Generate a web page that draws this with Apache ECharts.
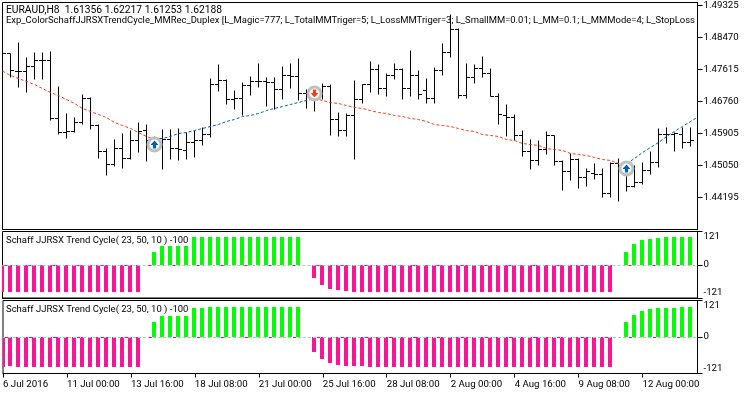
<!DOCTYPE html>
<html>
<head>
<meta charset="utf-8">
<style>
  html, body { margin: 0; padding: 0; background: #fff; }
  #chart { width: 750px; height: 394px; }
</style>
<script src="https://cdn.jsdelivr.net/npm/echarts@6/dist/echarts.min.js"></script>
</head>
<body>
<div id="chart"></div>
<script>
const opens = [1.47909,1.48042,1.47561,1.47561,1.47686,1.47855,1.47855,1.46306,1.45932,1.45958,1.46199,1.46840,1.46119,1.45424,1.45077,1.45504,1.45228,1.45718,1.45985,1.45718,1.45771,1.45745,1.45504,1.45451,1.45665,1.45718,1.45878,1.47214,1.47321,1.46813,1.46840,1.47187,1.47294,1.47294,1.47268,1.47081,1.47455,1.47428,1.46974,1.46974,1.47027,1.47161,1.46279,1.45985,1.46386,1.46813,1.47214,1.47615,1.47107,1.47455,1.47615,1.47107,1.47455,1.47054,1.46840,1.47588,1.48069,1.48684,1.46920,1.47401,1.47642,1.47508,1.46894,1.46386,1.46332,1.45852,1.45424,1.45184,1.45477,1.45852,1.45157,1.44890,1.45210,1.44729,1.44836,1.44810,1.44302,1.45103,1.45014,1.44489,1.44596,1.44916,1.45130,1.45878,1.45878,1.45878,1.45665]
const closes = [1.48042,1.47588,1.47561,1.47686,1.47855,1.47855,1.46306,1.45932,1.45958,1.46199,1.46840,1.46119,1.45424,1.45077,1.45504,1.45228,1.45718,1.45958,1.45718,1.45718,1.45745,1.45504,1.45477,1.45665,1.45718,1.45878,1.47214,1.47321,1.46813,1.46840,1.47187,1.47294,1.47294,1.47268,1.47081,1.47455,1.47428,1.46974,1.46974,1.47027,1.47161,1.46279,1.45985,1.46386,1.46813,1.47214,1.47615,1.47107,1.47455,1.47615,1.47107,1.47455,1.46947,1.46840,1.47588,1.48069,1.48684,1.46920,1.47401,1.47642,1.47508,1.46894,1.46413,1.46332,1.45852,1.45424,1.45184,1.45477,1.45852,1.45157,1.44890,1.45210,1.44729,1.44890,1.44810,1.44302,1.45103,1.45050,1.44489,1.44596,1.44916,1.45130,1.45878,1.45878,1.45905,1.45665,1.45718]
const lows = [1.47775,1.47392,1.47125,1.46991,1.47348,1.47348,1.46252,1.45878,1.45771,1.45932,1.46145,1.46012,1.45237,1.44774,1.45023,1.44970,1.45210,1.45397,1.45148,1.45504,1.44934,1.45210,1.45184,1.45210,1.45264,1.45584,1.45798,1.47027,1.46680,1.46546,1.46386,1.46920,1.47134,1.46626,1.46546,1.46813,1.47107,1.46787,1.46573,1.46493,1.46813,1.45860,1.45825,1.45825,1.45210,1.46706,1.47000,1.46947,1.46894,1.47348,1.46813,1.46894,1.46813,1.46706,1.46706,1.47455,1.47936,1.46840,1.46840,1.47241,1.47401,1.46894,1.46145,1.45834,1.45727,1.45290,1.44943,1.45050,1.45344,1.45050,1.44382,1.44649,1.44435,1.44489,1.44676,1.44195,1.44195,1.44088,1.44355,1.44462,1.44542,1.44810,1.44997,1.45638,1.45424,1.45504,1.45558]
const highs = [1.48131,1.48042,1.48336,1.47936,1.48069,1.48069,1.48096,1.47161,1.46439,1.46332,1.46947,1.46867,1.46145,1.45504,1.45745,1.45905,1.45985,1.46199,1.46145,1.45825,1.46012,1.46012,1.46039,1.45932,1.45985,1.46065,1.47374,1.47748,1.47348,1.47054,1.47268,1.47428,1.47775,1.47401,1.47401,1.47695,1.47775,1.47909,1.47081,1.47081,1.47241,1.47214,1.46466,1.46439,1.47321,1.47214,1.47829,1.47748,1.47508,1.47775,1.47642,1.48123,1.47588,1.47374,1.47668,1.48310,1.49084,1.48710,1.47775,1.47748,1.47962,1.47642,1.46974,1.46680,1.46413,1.45985,1.45745,1.45718,1.45958,1.45852,1.45184,1.45371,1.45237,1.44970,1.45103,1.44970,1.45130,1.45237,1.44970,1.45050,1.45130,1.45424,1.46039,1.46065,1.45932,1.46065,1.46065]

// dashed line over the price bars, one extra value past the last bar
const trend = [1.47570,1.47455,1.47374,1.47294,1.47214,1.47107,1.47000,1.46920,1.46813,1.46706,1.46573,1.46493,1.46413,1.46332,1.46199,1.46119,1.46039,1.45932,1.45825,1.45745,1.45771,1.45825,1.45905,1.45932,1.45985,1.46039,1.46092,1.46145,1.46226,1.46279,1.46359,1.46386,1.46439,1.46519,1.46573,1.46626,1.46680,1.46733,1.46787,1.46840,1.46787,1.46733,1.46706,1.46653,1.46600,1.46573,1.46519,1.46466,1.46439,1.46386,1.46359,1.46306,1.46279,1.46226,1.46145,1.46119,1.46092,1.46039,1.45985,1.45958,1.45878,1.45852,1.45825,1.45745,1.45718,1.45638,1.45611,1.45584,1.45504,1.45477,1.45451,1.45371,1.45344,1.45317,1.45264,1.45210,1.45184,1.45103,1.45103,1.45237,1.45397,1.45531,1.45665,1.45825,1.45958,1.46092,1.46226,1.46359]
const trendSwitches = [0, 19, 39, 78, 87]

const signalBars = [19, 39, 78]
const signalPrices = [1.45611, 1.46974, 1.44970]

const schaffTop = [-100,-100,-100,-100,-100,-100,-100,-100,-100,-100,-100,-100,-100,-100,-100,-100,-100,-100,0,48,67,67,67,67,100,100,100,100,100,100,100,100,100,100,100,100,100,100,0,-50,-75,-90,-93,-97,-100,-100,-100,-100,-100,-100,-100,-100,-100,-100,-100,-100,-100,-100,-100,-100,-100,-100,-100,-100,-100,-100,-100,-100,-100,-100,-100,-100,-100,-100,-100,-100,-100,0,48,74,89,93,96,100,100,100,100]
const schaffBottom = [-100,-97,-100,-100,-100,-100,-100,-100,-100,-100,-100,-100,-100,-100,-100,-100,-100,-100,0,50,70,70,70,70,96,96,100,100,100,100,100,100,100,100,100,100,100,100,0,-51,-74,-87,-93,-97,-97,-97,-100,-100,-100,-100,-100,-100,-100,-100,-100,-100,-100,-100,-100,-100,-100,-100,-100,-100,-100,-100,-100,-100,-100,-100,-100,-100,-100,-100,-100,-100,-100,0,50,73,86,92,96,96,96,100,100]

const tickLabels = ['6 Jul 2016','11 Jul 00:00','13 Jul 16:00','18 Jul 08:00','21 Jul 00:00','25 Jul 16:00','28 Jul 08:00','2 Aug 00:00','4 Aug 16:00','9 Aug 08:00','12 Aug 00:00']
const priceTickStep = 0.00855
const schaffLabel = 'Schaff JJRSX Trend Cycle( 23, 50, 10 ) -100'

const FONT = 'Roboto'
const FONT_SIZE = 9.7
const BLUE = '#0060b0'
const RED = '#e8431c'

const textTitle = (text, left, top, fontSize) => ({
    text, left, top,
    textStyle: { fontFamily: FONT, fontSize, fontWeight: 'normal', color: '#000', lineHeight: 12 },
    padding: 0
})

const xAxisFor = (gridIndex, showLabels) => ({
    type: 'value',
    gridIndex,
    min: 0,
    max: 86.875,
    interval: 8,
    splitLine: { show: false },
    axisLine: { show: true, onZero: false, lineStyle: { color: '#000' } },
    axisTick: { show: showLabels, length: 4, lineStyle: { color: '#000' } },
    axisLabel: {
        show: showLabels,
        align: 'left',
        margin: 6,
        showMaxLabel: false,
        color: '#000',
        fontFamily: FONT,
        fontSize: FONT_SIZE,
        formatter: v => tickLabels[v / 8] || ''
    }
})

const schaffYAxis = gridIndex => ({
    type: 'value',
    gridIndex,
    position: 'right',
    min: -121,
    max: 121,
    interval: 121,
    axisLine: { show: true, onZero: false, lineStyle: { color: '#000' } },
    axisTick: { length: 5, lineStyle: { color: '#000' } },
    splitLine: { show: false },
    axisLabel: {
        margin: 6,
        color: '#000',
        fontFamily: FONT,
        fontSize: FONT_SIZE,
        verticalAlignMaxLabel: 'top',
        verticalAlignMinLabel: 'bottom'
    }
})

const priceBarItem = (params, api) => {
    const p = api.coord([api.value(0), api.value(1)])
    const x = Math.floor(p[0]) + 0.5
    const row = v => Math.floor(api.coord([0, v])[1]) + 0.5
    const style = { stroke: '#000', lineWidth: 1, fill: null }
    return {
        type: 'group',
        children: [
            { type: 'line', shape: { x1: x, y1: row(api.value(3)), x2: x, y2: row(api.value(4)) }, style },
            { type: 'line', shape: { x1: x - 3.5, y1: row(api.value(1)), x2: x, y2: row(api.value(1)) }, style },
            { type: 'line', shape: { x1: x, y1: row(api.value(2)), x2: x + 3.5, y2: row(api.value(2)) }, style }
        ]
    }
}

const schaffBarItem = (params, api) => {
    const v = api.value(1)
    if (v === 0) return null
    const p = api.coord([api.value(0), v])
    const zero = api.coord([api.value(0), 0])
    const y1 = Math.round(Math.min(p[1], zero[1]))
    const y2 = Math.round(Math.max(p[1], zero[1]))
    return {
        type: 'rect',
        shape: { x: Math.floor(p[0]) - 2, y: y1, width: 4, height: y2 - y1 },
        style: { fill: v > 0 ? '#00ff00' : '#ff1493' }
    }
}

const schaffSeries = (values, axisIndex) => ({
    type: 'custom',
    xAxisIndex: axisIndex,
    yAxisIndex: axisIndex,
    clip: true,
    silent: true,
    renderItem: schaffBarItem,
    data: values.map((v, i) => [i, v]),
    markLine: {
        silent: true,
        symbol: 'none',
        label: { show: false },
        data: [
            { yAxis: 0, lineStyle: { color: '#c0c0c0', width: 1, type: [3, 2] } },
            { yAxis: 0, lineStyle: { color: '#e000e0', width: 1, type: [3, 21], dashOffset: 22 } }
        ]
    }
})

const trendSegments = trendSwitches.slice(0, -1).map((from, k) => ({
    type: 'line',
    xAxisIndex: 0,
    yAxisIndex: 0,
    symbol: 'none',
    silent: true,
    z: 3,
    lineStyle: { width: 1, type: [3, 2], color: k % 2 === 0 ? RED : BLUE },
    data: trend.slice(from, trendSwitches[k + 1] + 1).map((v, i) => [from + i, v])
}))

const arrowPath = 'path://M5 0L10 5L7 5L7 9L3 9L3 5L0 5Z'

const chart = echarts.init(document.getElementById('chart'), null, { renderer: 'canvas' })
chart.setOption({
    animation: false,
    backgroundColor: '#fff',
    title: [
        textTitle('EURAUD,H8  1.61356 1.62217 1.61253 1.62188', 6, 4, 10.3),
        textTitle('Exp_ColorSchaffJJRSXTrendCycle_MMRec_Duplex [L_Magic=777; L_TotalMMTriger=5; L_LossMMTriger=3; L_SmallMM=0.01; L_MM=0.1; L_MMMode=4; L_StopLoss', 6, 15, 9.45),
        textTitle(schaffLabel, 6, 235, 9.5),
        textTitle(schaffLabel, 6, 304, 9.5)
    ],
    grid: [
        { left: 2.5, right: 52.5, top: 2.5, height: 227, show: true, borderColor: '#000', borderWidth: 1 },
        { left: 2.5, right: 52.5, top: 231.5, height: 66.5, show: true, borderColor: '#000', borderWidth: 1 },
        { left: 2.5, right: 52.5, top: 300.5, height: 73, show: true, borderColor: '#000', borderWidth: 1 }
    ],
    xAxis: [xAxisFor(0, false), xAxisFor(1, false), xAxisFor(2, true)],
    yAxis: [
        {
            type: 'value',
            gridIndex: 0,
            position: 'right',
            min: 1.4334,
            max: 1.49405,
            interval: priceTickStep,
            splitLine: { show: false },
            axisLine: { show: true, onZero: false, lineStyle: { color: '#000' } },
            axisTick: { length: 5, lineStyle: { color: '#000' } },
            axisLabel: {
                margin: 6,
                showMinLabel: false,
                showMaxLabel: false,
                color: '#000',
                fontFamily: FONT,
                fontSize: FONT_SIZE,
                formatter: v => v.toFixed(5)
            }
        },
        schaffYAxis(1),
        schaffYAxis(2)
    ],
    series: [
        {
            type: 'custom',
            xAxisIndex: 0,
            yAxisIndex: 0,
            clip: true,
            silent: true,
            z: 2,
            renderItem: priceBarItem,
            encode: { x: 0, y: [1, 2, 3, 4] },
            data: opens.map((o, i) => [i, o, closes[i], lows[i], highs[i]])
        },
        ...trendSegments,
        {
            type: 'scatter',
            xAxisIndex: 0,
            yAxisIndex: 0,
            silent: true,
            z: 4,
            symbol: 'circle',
            symbolSize: 13,
            itemStyle: { color: '#fff', borderColor: '#c0c0c0', borderWidth: 3, opacity: 1 },
            data: signalBars.map((b, i) => [b, signalPrices[i]])
        },
        {
            type: 'scatter',
            xAxisIndex: 0,
            yAxisIndex: 0,
            silent: true,
            z: 5,
            symbol: arrowPath,
            symbolSize: [8, 8],
            data: signalBars.map((b, i) => ({
                value: [b, signalPrices[i]],
                symbolRotate: i === 1 ? 180 : 0,
                itemStyle: { color: i === 1 ? RED : BLUE, opacity: 1 }
            }))
        },
        schaffSeries(schaffTop, 1),
        schaffSeries(schaffBottom, 2)
    ]
})
</script>
</body>
</html>
